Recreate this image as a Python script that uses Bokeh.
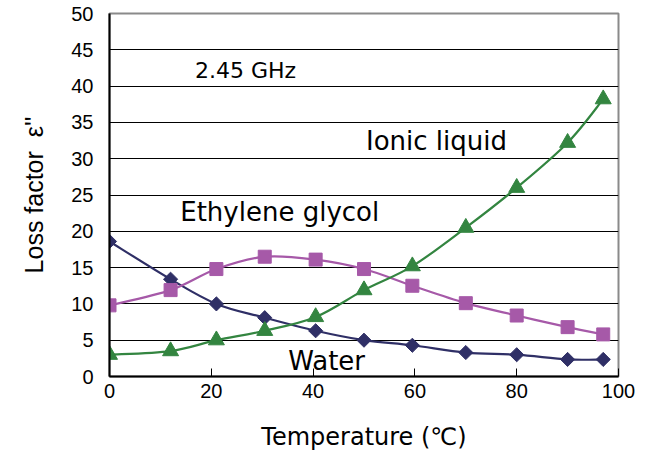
from bokeh.plotting import figure
from bokeh.models import Range1d, FixedTicker, Label
from bokeh.embed import file_html
from bokeh.resources import INLINE
import math

# Temperature (°C) at which each sample was measured
temperature = [0, 12, 21, 30.5, 40.5, 50, 59.5, 70, 80, 90, 97]

# Loss factor ε'' at 2.45 GHz
water = [18.6, 13.4, 10.0, 8.1, 6.3, 5.0, 4.3, 3.3, 3.0, 2.35, 2.35]
ethylene_glycol = [9.8, 11.9, 14.8, 16.5, 16.1, 14.8, 12.5, 10.1, 8.4, 6.8, 5.8]
ionic_liquid = [3.0, 3.5, 5.0, 6.3, 8.2, 11.9, 15.2, 20.5, 26.0, 32.2, 38.2]

y_ticks = [0, 5, 10, 15, 20, 25, 30, 35, 40, 45, 50]
x_ticks = [0, 20, 40, 60, 80, 100]

NAVY = "#2F2F66"
PURPLE = "#A659A8"
GREEN = "#338540"
SANS = "Liberation Sans"
GOTHIC = "DejaVu Sans"

p = figure(width=648, height=453, output_backend="svg", toolbar_location=None,
           x_range=Range1d(0, 100), y_range=Range1d(0, 50),
           min_border_left=109, min_border_right=30, min_border_top=13,
           min_border_bottom=77)

p.background_fill_color = "white"
p.border_fill_color = "white"
p.outline_line_color = "#8a8a8a"
p.outline_line_width = 2

p.xgrid.visible = False
p.ygrid.ticker = FixedTicker(ticks=y_ticks)
p.ygrid.grid_line_color = "black"
p.ygrid.grid_line_width = 1

p.xaxis.ticker = FixedTicker(ticks=x_ticks)
p.yaxis.ticker = FixedTicker(ticks=y_ticks)
for ax in (p.xaxis, p.yaxis):
    ax.axis_line_color = "black"
    ax.axis_line_width = 2
    ax.minor_tick_line_color = None
    ax.major_label_text_font = SANS
    ax.major_label_text_font_size = "20px"
    ax.major_label_text_color = "black"
    ax.axis_label_text_font_style = "normal"
    ax.axis_label_text_color = "black"

p.xaxis.major_tick_in = 8
p.xaxis.major_tick_out = 0
p.xaxis.major_tick_line_color = "black"
p.xaxis.major_tick_line_width = 1
p.xaxis.major_label_standoff = 7
p.xaxis.axis_label = "Temperature (℃)"
p.xaxis.axis_label_text_font = GOTHIC
p.xaxis.axis_label_text_font_size = "24px"
p.xaxis.axis_label_standoff = 22

p.yaxis.major_tick_in = 0
p.yaxis.major_tick_out = 0
p.yaxis.major_label_standoff = 16
p.yaxis.axis_label = "Loss factor\u00a0\u00a0ε''"
p.yaxis.axis_label_text_font = SANS
p.yaxis.axis_label_text_font_size = "25px"
p.yaxis.axis_label_standoff = 20


def smooth_segments(xs, ys):
    """Catmull-Rom style Bezier control points through the measured points."""
    n = len(xs)
    segs = {"x0": [], "y0": [], "x1": [], "y1": [],
            "cx0": [], "cy0": [], "cx1": [], "cy1": []}
    for i in range(n - 1):
        xp, yp = (xs[i - 1], ys[i - 1]) if i > 0 else (xs[i], ys[i])
        xn, yn = (xs[i + 2], ys[i + 2]) if i + 2 < n else (xs[i + 1], ys[i + 1])
        segs["x0"].append(xs[i]); segs["y0"].append(ys[i])
        segs["x1"].append(xs[i + 1]); segs["y1"].append(ys[i + 1])
        segs["cx0"].append(xs[i] + (xs[i + 1] - xp) / 6)
        segs["cy0"].append(ys[i] + (ys[i + 1] - yp) / 6)
        segs["cx1"].append(xs[i + 1] - (xn - xs[i]) / 6)
        segs["cy1"].append(ys[i + 1] - (yn - ys[i]) / 6)
    return segs


series = [
    (water, NAVY, "square", 10, math.pi / 4),
    (ethylene_glycol, PURPLE, "square", 13, 0),
    (ionic_liquid, GREEN, "triangle", 16, 0),
]

for ys, color, marker, size, angle in series:
    s = smooth_segments(temperature, ys)
    p.bezier(x0=s["x0"], y0=s["y0"], x1=s["x1"], y1=s["y1"],
             cx0=s["cx0"], cy0=s["cy0"], cx1=s["cx1"], cy1=s["cy1"],
             line_color=color, line_width=2.2)
for ys, color, marker, size, angle in series:
    p.scatter(temperature, ys, marker=marker, size=size, angle=angle,
              fill_color=color, line_color=color, line_width=1)

# Series names and frequency
labels = [
    ("2.45 GHz", 16.8, 42.2, "22px"),
    ("Ionic liquid", 50.4, 32.4, "26px"),
    ("Ethylene glycol", 13.9, 22.6, "26px"),
    ("Water", 35.1, 2.1, "26px"),
]
for text, x, y, fs in labels:
    p.add_layout(Label(x=x, y=y, text=text, text_font=GOTHIC, text_font_size=fs,
                       text_color="black", text_baseline="alphabetic",
                       text_align="left"))

open("out.html", "w").write(file_html(p, INLINE))
